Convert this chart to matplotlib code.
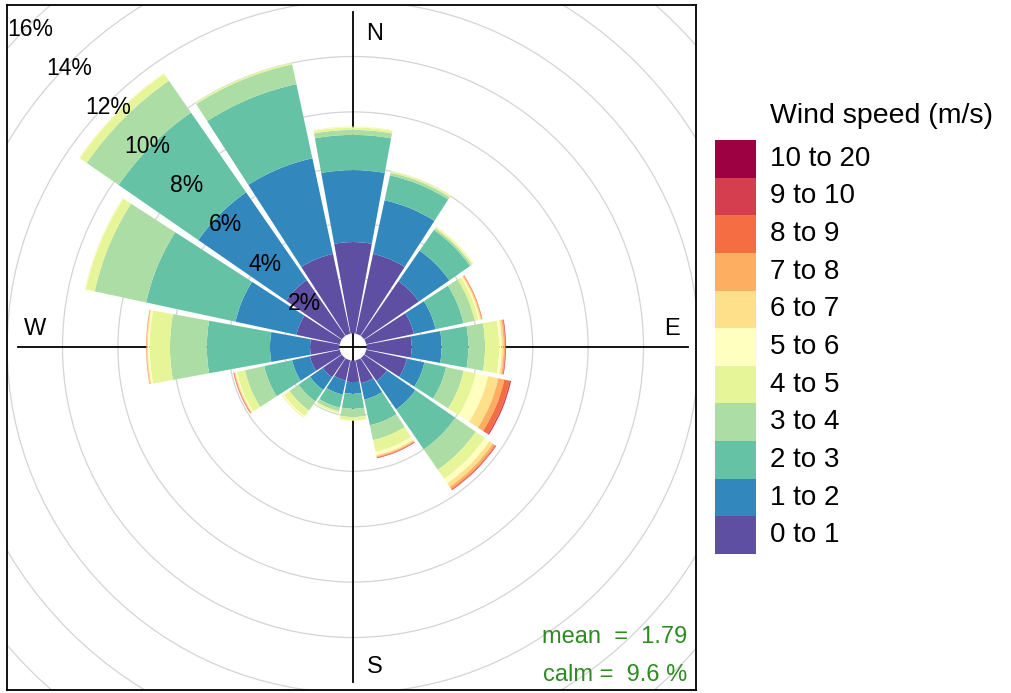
import numpy as np
import matplotlib
matplotlib.use("Agg")
import matplotlib.pyplot as plt
from matplotlib.patches import Wedge, Circle, Rectangle

plt.rcParams['font.family'] = ['Liberation Sans', 'DejaVu Sans']

# ---------------- data ----------------
directions = [0, 22.5, 45, 67.5, 90, 112.5, 135, 157.5,
              180, 202.5, 225, 247.5, 270, 292.5, 315, 337.5]
speed_bins = ["0 to 1", "1 to 2", "2 to 3", "3 to 4", "4 to 5", "5 to 6",
              "6 to 7", "7 to 8", "8 to 9", "9 to 10", "10 to 20"]
# frequency (%) per direction for each speed bin
ws_0_1 = [3.30, 2.95, 2.40, 1.76, 1.63, 1.50, 1.00, 0.85, 0.78, 0.75, 0.84, 1.10, 1.06, 1.60, 2.45, 2.95]
ws_1_2 = [2.60, 1.98, 1.34, 0.80, 1.08, 0.65, 1.25, 0.60, 0.42, 0.52, 0.56, 0.66, 1.45, 2.25, 3.85, 3.53]
ws_2_3 = [1.27, 0.92, 0.91, 1.03, 0.97, 0.80, 1.75, 0.95, 0.54, 0.48, 0.50, 1.03, 2.28, 3.30, 3.50, 2.74]
ws_3_4 = [0.18, 0.10, 0.07, 0.41, 0.60, 0.65, 0.90, 0.55, 0.30, 0.13, 0.40, 0.71, 1.33, 1.90, 1.40, 0.73]
ws_4_5 = [0.09, 0.05, 0.06, 0.15, 0.51, 0.45, 0.40, 0.43, 0.12, 0.07, 0.25, 0.30, 0.73, 0.33, 0.30, 0.05]
ws_5_6 = [0.02, 0.02, 0.02, 0.05, 0.09, 0.45, 0.20, 0.12, 0.02, 0.02, 0.05, 0.05, 0.07, 0.02, 0.02, 0.01]
ws_6_7 = [0.01, 0.00, 0.01, 0.04, 0.07, 0.38, 0.15, 0.05, 0.00, 0.00, 0.02, 0.03, 0.03, 0.01, 0.01, 0.00]
ws_7_8 = [0.00, 0.00, 0.00, 0.03, 0.05, 0.22, 0.09, 0.03, 0.00, 0.00, 0.00, 0.02, 0.02, 0.00, 0.00, 0.00]
ws_8_9 = [0.00, 0.00, 0.00, 0.02, 0.02, 0.20, 0.04, 0.02, 0.00, 0.00, 0.00, 0.02, 0.01, 0.00, 0.00, 0.00]
ws_9_10 = [0.00, 0.00, 0.00, 0.00, 0.02, 0.05, 0.02, 0.02, 0.00, 0.00, 0.00, 0.01, 0.00, 0.00, 0.00, 0.00]
ws_10_20 = [0.00] * 16
grid_pct = [2, 4, 6, 8, 10, 12, 14, 16]
mean_ws = 1.79
calm_pct = 9.6

bin_values = [ws_0_1, ws_1_2, ws_2_3, ws_3_4, ws_4_5, ws_5_6,
              ws_6_7, ws_7_8, ws_8_9, ws_9_10, ws_10_20]
colors = ["#5E4FA2", "#3288BD", "#66C2A5", "#ABDDA4", "#E6F598", "#FFFFBF",
          "#FEE08B", "#FDAE61", "#F46D43", "#D53E4F", "#9E0142"]

# ---------------- figure ----------------
W, H = 1011, 693
fig = plt.figure(figsize=(W / 100, H / 100), dpi=100)
px = 27.7          # pixels per percent
off = 13.5 / px    # calm circle offset in % units
cx, cy = 353, 347
L, R, T, B = 7, 696, 5, 690
ax = fig.add_axes([L / W, (H - B) / H, (R - L) / W, (B - T) / H])
ax.set_xlim((L - cx) / px, (R - cx) / px)
ax.set_ylim(-(B - cy) / px, (cy - T) / px)
ax.set_xticks([]); ax.set_yticks([])
for s in ax.spines.values():
    s.set_linewidth(1.3)
    s.set_color("black")

# grid circles
for g in grid_pct:
    ax.add_patch(Circle((0, 0), off + g, fill=False, ec="#d4d4d4", lw=0.9, zorder=1))

# axis lines
ext = 335 / px
ax.plot([-ext, ext], [0, 0], color="black", lw=1.3, zorder=2)
ax.plot([0, 0], [-ext, ext], color="black", lw=1.3, zorder=2)

# wedges
half = 11.25 - 0.9
cum = np.zeros(len(directions))
for vals, col in zip(bin_values, colors):
    vals = np.array(vals)
    for i, d in enumerate(directions):
        if vals[i] <= 0:
            continue
        r_in = off + cum[i]
        r_out = r_in + vals[i]
        ax.add_patch(Wedge((0, 0), r_out, 90 - d - half, 90 - d + half,
                           width=r_out - r_in, fc=col, ec="none", lw=0,
                           zorder=3, antialiased=True))
    cum += vals

# percentage labels along 315 deg
dy_lab = -5 / px
for g in grid_pct:
    rr = off + g
    ax.text(-rr * np.sin(np.pi / 4), rr * np.cos(np.pi / 4) + dy_lab, f"{g}%",
            ha="center", va="center", fontsize=16.5, color="black",
            zorder=5, clip_on=True)

# compass labels
def pos(xp, yp):
    return (xp - cx) / px, (cy - yp) / px

for lab, (xp, yp) in {"N": (375, 34), "S": (375, 667),
                      "W": (35, 329), "E": (672, 329)}.items():
    ax.text(*pos(xp, yp), lab, ha="center", va="center", fontsize=17,
            color="black", zorder=5)

# mean / calm
ax.text(*pos(687, 637), f"mean  =  {mean_ws}", ha="right", va="center",
        fontsize=17, color="#2e8b22", zorder=5)
ax.text(*pos(687, 675), f"calm =  {calm_pct} %", ha="right", va="center",
        fontsize=17, color="#2e8b22", zorder=5)

# legend
lx0, lx1 = 715, 756
ly_top, ly_bot = 140, 554
n = len(colors)
hh = (ly_bot - ly_top) / n
for j in range(n):
    k = n - 1 - j
    y_top = ly_top + j * hh
    fig.patches.append(Rectangle((lx0 / W, 1 - (y_top + hh) / H),
                                 (lx1 - lx0) / W, hh / H,
                                 transform=fig.transFigure,
                                 fc=colors[k], ec="none"))
    fig.text(770 / W, 1 - (y_top + hh / 2) / H, speed_bins[k],
             ha="left", va="center", fontsize=20, color="black")
fig.text(770 / W, 1 - 116 / H, "Wind speed (m/s)", ha="left", va="center",
         fontsize=20.5, color="black")

fig.savefig("out.png", dpi=100)
